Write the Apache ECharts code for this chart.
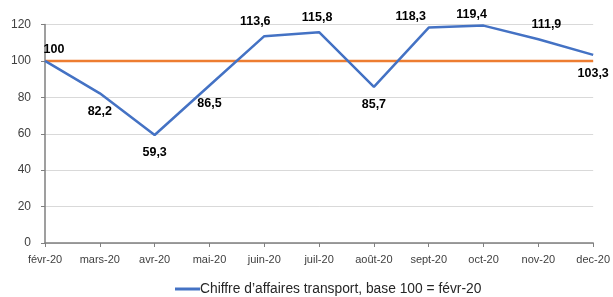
<!DOCTYPE html>
<html lang="fr">
<head>
    <meta charset="utf-8">
    <title>Chiffre d'affaires transport</title>
    <script src="https://cdn.jsdelivr.net/npm/echarts@6/dist/echarts.min.js"></script>
    <style>
        body { margin: 0; background: #ffffff; }
    </style>
</head>
<body>
<div id="main" style="width: 613px;height:297px;"></div>
<script type="text/javascript">
    // données
    var months = ['févr-20', 'mars-20', 'avr-20', 'mai-20', 'juin-20', 'juil-20',
        'août-20', 'sept-20', 'oct-20', 'nov-20', 'dec-20'];
    var transport = [100, 82.2, 59.3, 86.5, 113.6, 115.8, 85.7, 118.3, 119.4, 111.9, 103.3];
    var base = [100, 100, 100, 100, 100, 100, 100, 100, 100, 100, 100];
    var seriesName = 'Chiffre d\u2019affaires transport, base 100 = févr-20';

    // placement des étiquettes (au-dessus / en dessous, décalage)
    var labelPos = [
        ['top', [9, 0]], ['bottom', [0, 7]], ['bottom', [0, 6]], ['bottom', [0, 7]],
        ['top', [-9, -3]], ['top', [-2, -3]], ['bottom', [0, 6]], ['top', [-18, 0]],
        ['top', [-12, 0]], ['top', [8, -3]], ['bottom', [0, 7]]
    ];

    var myChart = echarts.init(document.getElementById('main'));

    var option = {
        animation: false,
        textStyle: { fontFamily: 'Liberation Sans' },
        grid: { left: 45, right: 18, top: 24.5, bottom: 54 },
        legend: {
            data: [seriesName],
            top: 282,
            left: 175,
            padding: 0,
            itemWidth: 25,
            itemHeight: 3,
            itemGap: 0,
            icon: 'rect',
            textStyle: { color: '#262626', fontSize: 13.8, padding: [0, 0, 0, -5] }
        },
        xAxis: {
            type: 'category',
            data: months,
            boundaryGap: false,
            axisLine: { lineStyle: { color: '#7f7f7f', width: 1.5 } },
            axisTick: { show: true, length: 4, lineStyle: { color: '#7f7f7f' } },
            axisLabel: { color: '#404040', fontSize: 11, margin: 11, interval: 0 },
            splitLine: { show: false }
        },
        yAxis: {
            type: 'value',
            min: 0,
            max: 120,
            interval: 20,
            axisLine: { show: true, lineStyle: { color: '#7f7f7f', width: 1.5 } },
            axisTick: { show: true, length: 4, lineStyle: { color: '#7f7f7f' } },
            axisLabel: { color: '#404040', fontSize: 12, margin: 14 },
            splitLine: { lineStyle: { color: '#d9d9d9' } }
        },
        series: [
            {
                name: 'base',
                type: 'line',
                data: base,
                symbol: 'none',
                lineStyle: { color: '#ed7d31', width: 2.5 },
                silent: true
            },
            {
                name: seriesName,
                type: 'line',
                data: transport.map(function (v, i) {
                    return {
                        value: v,
                        label: { position: labelPos[i][0], offset: labelPos[i][1] }
                    };
                }),
                symbol: 'circle',
                symbolSize: 0,
                showAllSymbol: true,
                itemStyle: { color: '#4472c4' },
                lineStyle: { color: '#4472c4', width: 2.5 },
                label: {
                    show: true,
                    color: '#000000',
                    fontWeight: 'bold',
                    fontSize: 12.5,
                    formatter: function (p) {
                        return String(p.value).replace('.', ',');
                    }
                }
            }
        ]
    };

    myChart.setOption(option);
</script>
</body>
</html>
